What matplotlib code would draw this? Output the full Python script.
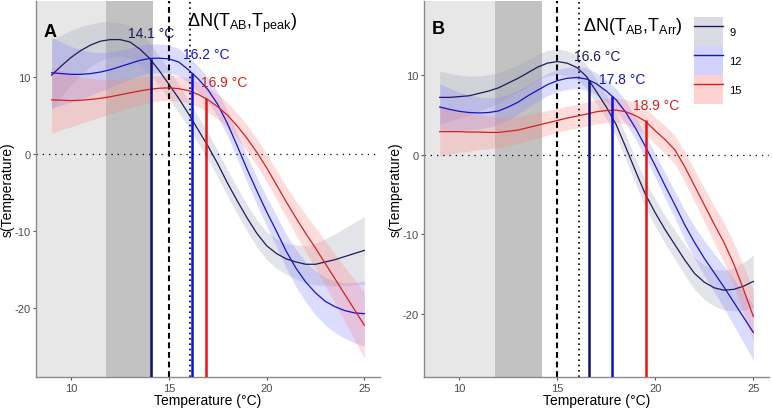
import matplotlib
matplotlib.use("Agg")
import matplotlib.pyplot as plt
from matplotlib.patches import Patch
from matplotlib.lines import Line2D

plt.rcParams['font.family'] = ['Liberation Sans', 'DejaVu Sans']
plt.rcParams['mathtext.fontset'] = 'custom'
plt.rcParams['mathtext.rm'] = 'Liberation Sans'
plt.rcParams['mathtext.it'] = 'Liberation Sans:italic'
plt.rcParams['mathtext.default'] = 'regular'
plt.rcParams['axes.unicode_minus'] = False

# temperature grid, half degree steps
temp = [9, 9.5, 10, 10.5, 11, 11.5, 12, 12.5, 13, 13.5, 14, 14.5, 15, 15.5, 16, 16.5, 17,
        17.5, 18, 18.5, 19, 19.5, 20, 20.5, 21, 21.5, 22, 22.5, 23, 23.5, 24, 24.5, 25]
groups = ['9', '12', '15']

# panel A: smooth fits and half-widths of the ribbons
a_fit = {
    '9':  [10.2, 11.4, 12.5, 13.4, 14.1, 14.6, 14.8, 14.8, 14.5, 13.6, 12.4, 10.8, 9.0, 7.2, 5.2, 3.1, 1.0,
           -1.3, -3.8, -6.1, -8.3, -10.3, -11.9, -12.9, -13.6, -14.0, -14.3, -14.3, -14.0, -13.7, -13.3, -12.9, -12.5],
    '12': [10.5, 10.4, 10.3, 10.3, 10.4, 10.6, 10.9, 11.3, 11.7, 12.1, 12.35, 12.4, 12.3, 11.9, 10.9, 9.7, 8.3,
           6.4, 3.9, 1.0, -2.0, -4.8, -7.5, -10.0, -12.6, -14.8, -16.6, -18.0, -19.1, -19.8, -20.3, -20.6, -20.7],
    '15': [7.0, 6.95, 6.9, 6.95, 7.05, 7.2, 7.4, 7.65, 7.9, 8.15, 8.35, 8.5, 8.55, 8.45, 8.2, 7.7, 7.0,
           6.1, 5.0, 3.6, 2.0, 0.2, -1.8, -4.0, -6.2, -8.3, -10.3, -12.2, -14.2, -16.2, -18.2, -20.2, -22.2],
}
a_se = {
    '9':  [4.6, 4.0, 3.5, 3.1, 2.7, 2.5, 2.3, 2.2, 2.1, 2.05, 2.0, 1.95, 1.9, 1.85, 1.8, 1.75, 1.7,
           1.7, 1.7, 1.7, 1.7, 1.75, 1.8, 1.9, 2.0, 2.2, 2.4, 2.7, 3.0, 3.35, 3.7, 4.05, 4.4],
    '12': [4.6, 4.1, 3.6, 3.2, 2.8, 2.5, 2.3, 2.15, 2.0, 1.95, 1.9, 1.85, 1.8, 1.75, 1.7, 1.65, 1.6,
           1.6, 1.6, 1.65, 1.7, 1.8, 1.9, 2.05, 2.2, 2.4, 2.6, 2.85, 3.1, 3.35, 3.6, 3.9, 4.2],
    '15': [4.3, 3.8, 3.4, 3.0, 2.7, 2.45, 2.2, 2.05, 1.9, 1.8, 1.7, 1.65, 1.6, 1.6, 1.6, 1.6, 1.6,
           1.6, 1.6, 1.65, 1.7, 1.75, 1.8, 1.9, 2.0, 2.2, 2.4, 2.65, 2.9, 3.2, 3.5, 3.9, 4.3],
}
a_mark_x = [14.1, 16.2, 16.9]
a_mark_y = [12.3, 10.5, 7.2]
a_mark_txt = ['14.1 °C', '16.2 °C', '16.9 °C']

# panel B
b_fit = {
    '9':  [7.2, 7.2, 7.3, 7.4, 7.7, 8.0, 8.4, 9.0, 9.6, 10.3, 11.0, 11.5, 11.7, 11.5, 10.95, 9.8, 7.9,
           6.0, 3.8, 0.9, -2.1, -5.0, -7.3, -9.4, -11.3, -13.2, -14.9, -16.0, -16.7, -17.0, -16.9, -16.5, -15.9],
    '12': [6.0, 5.7, 5.45, 5.3, 5.25, 5.3, 5.5, 6.0, 6.6, 7.4, 8.1, 8.8, 9.3, 9.6, 9.7, 9.5, 8.9,
           8.0, 6.9, 5.3, 3.3, 1.0, -1.4, -3.9, -6.3, -8.8, -11.0, -13.0, -14.8, -16.6, -18.5, -20.4, -22.3],
    '15': [2.9, 2.9, 2.9, 2.85, 2.85, 2.8, 2.8, 2.95, 3.1, 3.4, 3.7, 4.0, 4.3, 4.6, 4.85, 5.1, 5.4,
           5.55, 5.6, 5.4, 4.9, 4.2, 3.0, 1.9, 0.6, -1.5, -3.9, -6.3, -8.7, -11.0, -13.7, -16.9, -20.3],
}
b_se = {
    '9':  [3.3, 3.0, 2.7, 2.45, 2.2, 2.05, 1.9, 1.8, 1.7, 1.65, 1.6, 1.6, 1.6, 1.55, 1.5, 1.5, 1.5,
           1.5, 1.5, 1.55, 1.6, 1.65, 1.7, 1.75, 1.8, 1.9, 2.0, 2.15, 2.3, 2.5, 2.7, 3.0, 3.3],
    '12': [2.9, 2.65, 2.4, 2.2, 2.0, 1.85, 1.7, 1.6, 1.5, 1.45, 1.4, 1.4, 1.4, 1.4, 1.4, 1.4, 1.4,
           1.4, 1.4, 1.4, 1.4, 1.45, 1.5, 1.6, 1.7, 1.85, 2.0, 2.2, 2.4, 2.65, 2.9, 3.2, 3.5],
    '15': [3.1, 2.85, 2.6, 2.4, 2.2, 2.05, 1.9, 1.8, 1.7, 1.65, 1.6, 1.55, 1.5, 1.5, 1.5, 1.5, 1.5,
           1.5, 1.5, 1.55, 1.6, 1.65, 1.7, 1.75, 1.8, 1.9, 2.0, 2.15, 2.3, 2.5, 2.7, 2.95, 3.2],
}
b_mark_x = [16.6, 17.8, 19.5]
b_mark_y = [9.4, 7.4, 4.3]
b_mark_txt = ['16.6 °C', '17.8 °C', '18.9 °C']

line_col = {'9': '#1c1c5c', '12': '#1414c8', '15': '#d42020'}
vline_col = {'9': '#10106e', '12': '#0a0aee', '15': '#ee1010'}
rib_col = {'9': '#9a9ab4', '12': '#8080ff', '15': '#ff8080'}


def panel(ax, fit, se, mark_x, mark_y, mark_txt, txt_pos, ylim, letter, title, title_pos):
    ax.set_xlim(8.2, 25.8)
    ax.set_ylim(*ylim)
    ax.axvspan(8.2, 11.8, color='#e7e7e7', lw=0, zorder=0)
    ax.axvspan(11.8, 14.2, color='#c2c2c2', lw=0, zorder=0)
    for g in groups:
        lo = [m - s for m, s in zip(fit[g], se[g])]
        hi = [m + s for m, s in zip(fit[g], se[g])]
        ax.fill_between(temp, lo, hi, color=rib_col[g], alpha=0.27, lw=0, zorder=1)
    for g in groups:
        ax.plot(temp, fit[g], color=line_col[g], lw=0.9, zorder=3)
    ax.axhline(0, color='black', lw=0.9, ls=(0, (1, 4)), zorder=2)
    ax.axvline(15, color='black', lw=1.5, ls=(0, (2.8, 1.8)), zorder=2)
    ax.axvline(16.1, color='black', lw=1.2, ls=(0, (1, 2.2)), zorder=2)
    for g, x, y, t, (tx, ty) in zip(groups, mark_x, mark_y, mark_txt, txt_pos):
        ax.vlines(x, ylim[0], y, color=vline_col[g], lw=1.8, zorder=4)
        ax.text(tx, ty, t, color=line_col[g], fontsize=10, ha='center', va='center', zorder=5)
    ax.text(8.6, 15.8, letter, fontsize=13, fontweight='bold', ha='left', va='center')
    ax.text(title_pos[0], title_pos[1], title, fontsize=13, ha='left', va='center', zorder=5)
    for s in ['top', 'right']:
        ax.spines[s].set_visible(False)
    for s in ['left', 'bottom']:
        ax.spines[s].set_color('#8a8a8a')
        ax.spines[s].set_linewidth(1.0)
    ax.set_xticks([10, 15, 20, 25])
    ax.set_yticks([-20, -10, 0, 10])
    ax.tick_params(colors='#555555', labelsize=8, length=2.5, width=0.8, pad=1.5, labelcolor='#4d4d4d')
    ax.set_xlabel('Temperature (°C)', fontsize=10, labelpad=0)
    ax.set_ylabel('s(Temperature)', fontsize=10, labelpad=0)


fig = plt.figure(figsize=(7.72, 4.10), dpi=100)
axA = fig.add_axes([36 / 772, 32 / 410, 344 / 772, 376 / 410])
axB = fig.add_axes([424 / 772, 32 / 410, 345 / 772, 376 / 410])

panel(axA, a_fit, a_se, a_mark_x, a_mark_y, a_mark_txt,
      [(14.1, 15.6), (16.9, 13.0), (17.85, 9.3)], (-28.9, 19.8), 'A',
      r'$\Delta$N(T$_{AB}$,T$_{peak}$)', (15.95, 17.0))
panel(axB, b_fit, b_se, b_mark_x, b_mark_y, b_mark_txt,
      [(17.05, 12.4), (18.3, 9.5), (20.05, 6.3)], (-27.9, 19.3), 'B',
      r'$\Delta$N(T$_{AB}$,T$_{Arr}$)', (16.3, 16.2))

handles = [(Patch(facecolor=rib_col[g], alpha=0.35, lw=0), Line2D([], [], color=line_col[g], lw=1.0))
           for g in groups]
axB.legend(handles, groups, loc='upper left', bbox_to_anchor=(694 / 772, 1 - 18 / 410),
           bbox_transform=fig.transFigure, frameon=False, fontsize=8,
           handlelength=2.6, handleheight=3.65, labelspacing=0.0, borderpad=0,
           borderaxespad=0, handletextpad=0.6)

fig.savefig('out.png', dpi=100)
